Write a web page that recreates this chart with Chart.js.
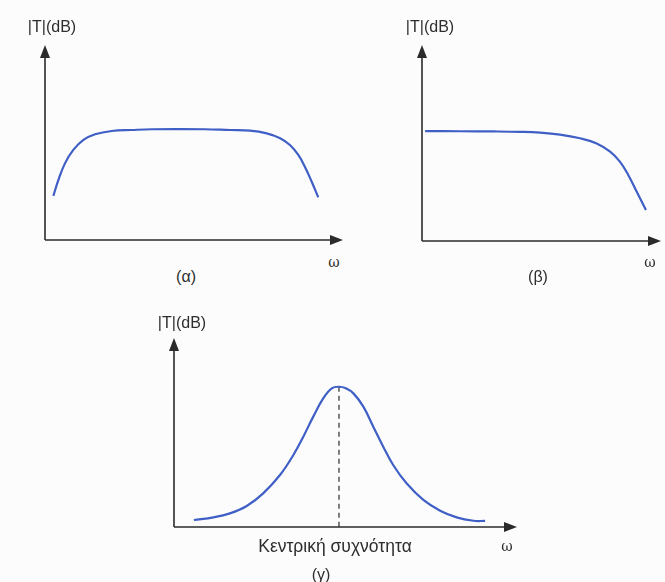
<!DOCTYPE html>
<html>
<head>
<meta charset="utf-8">
<script src="https://cdn.jsdelivr.net/npm/chart.js@4/dist/chart.umd.min.js"></script>
<style>
  html, body { margin:0; padding:0; background:#fcfcfc; width:665px; height:582px; overflow:hidden; position:relative; }
  canvas { position:absolute; }
  .lbl { position:absolute; font-family:"Liberation Sans", Arial, sans-serif; color:#2e2e2e; white-space:nowrap; transform:translate(-50%,-50%); }
  .om { font-family:"DejaVu Serif", serif; font-size:14px; }
</style>
</head>
<body>
<canvas id="ca"></canvas>
<canvas id="cb"></canvas>
<canvas id="cc"></canvas>

<div class="lbl" style="left:52px;top:27px;font-size:16px;">|T|(dB)</div>
<div class="lbl om" style="left:334px;top:262px;">ω</div>
<div class="lbl" style="left:186px;top:277px;font-size:16px;">(α)</div>

<div class="lbl" style="left:430px;top:27px;font-size:16px;">|T|(dB)</div>
<div class="lbl om" style="left:650px;top:262px;">ω</div>
<div class="lbl" style="left:538px;top:277px;font-size:16px;">(β)</div>

<div class="lbl" style="left:182px;top:323px;font-size:16px;">|T|(dB)</div>
<div class="lbl" style="left:335px;top:546px;font-size:17.5px;">Κεντρική συχνότητα</div>
<div class="lbl om" style="left:507px;top:546px;">ω</div>
<div class="lbl" style="left:321px;top:575px;font-size:16px;">(γ)</div>

<script>
// ---- data (arbitrary units, 0..100 on both axes) ----
const omegaA = [2.8, 4.5, 6.7, 9.5, 12.9, 16.8, 22.4, 29.1, 35.8, 45.3, 53.7, 62.1, 68.8, 74.4, 78.9, 82.2, 85.0, 87.2, 89.5, 91.7];
const magA   = [22.6, 30.8, 39.3, 46.2, 51.3, 54.2, 55.9, 56.4, 56.8, 56.9, 56.8, 56.4, 56.1, 54.7, 52.2, 48.7, 43.6, 37.6, 29.9, 21.9];

const omegaB = [1.3, 16.0, 30.0, 41.0, 49.4, 57.7, 66.1, 73.1, 78.7, 82.8, 86.3, 89.8, 93.7];
const magB   = [56.1, 56.0, 55.9, 55.7, 55.3, 54.3, 52.4, 49.8, 45.6, 40.5, 33.7, 25.2, 15.8];

const omegaC = [5.8, 11.5, 16.3, 21.2, 26.0, 30.9, 34.8, 37.7, 40.6, 43.5, 46.0, 48.1, 50.1, 52.3, 55.2, 58.1, 61.0, 63.9, 67.8, 72.7, 77.6, 82.4, 87.3, 90.7];
const magC   = [3.7, 5.1, 7.2, 11.1, 17.8, 27.5, 38.1, 47.8, 58.4, 68.1, 73.4, 74.2, 73.4, 70.7, 63.7, 53.1, 42.5, 32.8, 23.1, 14.3, 8.6, 5.1, 3.3, 3.2];
const centerIndexC = 11;

const axisMin = 0, axisMax = 100;

// ---- layout ----
const PAD = 14;
const AXIS_COLOR = '#2b2b2b';
const CURVE_COLOR = '#3f5fc6';

const axesPlugin = {
  id: 'arrowAxes',
  beforeDatasetsDraw(chart, args, opts) {
    const ctx = chart.ctx, xs = chart.scales.x, ys = chart.scales.y;
    const x0 = xs.getPixelForValue(axisMin), y0 = ys.getPixelForValue(axisMin);
    const xr = xs.getPixelForValue(axisMax), yt = ys.getPixelForValue(axisMax);
    const al = 13, aw = 5;
    ctx.save();
    ctx.strokeStyle = AXIS_COLOR; ctx.fillStyle = AXIS_COLOR; ctx.lineWidth = 1.6;
    ctx.beginPath();
    ctx.moveTo(x0, y0); ctx.lineTo(x0, yt + al - 1);
    ctx.moveTo(x0, y0); ctx.lineTo(xr - al + 1, y0);
    ctx.stroke();
    ctx.beginPath();
    ctx.moveTo(x0, yt); ctx.lineTo(x0 - aw, yt + al); ctx.lineTo(x0 + aw, yt + al); ctx.closePath();
    ctx.fill();
    ctx.beginPath();
    ctx.moveTo(xr, y0); ctx.lineTo(xr - al, y0 - aw); ctx.lineTo(xr - al, y0 + aw); ctx.closePath();
    ctx.fill();
    if (opts && opts.dashIndex !== undefined) {
      const ds = chart.data.datasets[0].data[opts.dashIndex];
      const px = xs.getPixelForValue(ds.x), py = ys.getPixelForValue(ds.y);
      ctx.setLineDash([5, 4]);
      ctx.lineWidth = 1.2;
      ctx.beginPath(); ctx.moveTo(px, py); ctx.lineTo(px, y0); ctx.stroke();
    }
    ctx.restore();
  }
};

function makeChart(id, ox, oy, w, h, xs, ys, dashIndex) {
  const cv = document.getElementById(id);
  cv.width = w + 2 * PAD; cv.height = h + 2 * PAD;
  cv.style.left = (ox - PAD) + 'px';
  cv.style.top = (oy - h - PAD) + 'px';
  cv.style.width = cv.width + 'px'; cv.style.height = cv.height + 'px';
  const pts = xs.map((x, i) => ({ x: x, y: ys[i] }));
  const pluginOpts = {};
  if (dashIndex !== undefined) pluginOpts.dashIndex = dashIndex;
  return new Chart(cv, {
    type: 'line',
    data: { datasets: [{ data: pts, borderColor: CURVE_COLOR, borderWidth: 2.2, pointRadius: 0,
                         tension: 0.4, fill: false }] },
    options: {
      responsive: false, animation: false, devicePixelRatio: 1,
      layout: { padding: PAD },
      plugins: { legend: { display: false }, tooltip: { enabled: false }, arrowAxes: pluginOpts },
      scales: {
        x: { type: 'linear', min: axisMin, max: axisMax, display: false },
        y: { type: 'linear', min: axisMin, max: axisMax, display: false }
      }
    },
    plugins: [axesPlugin]
  });
}

makeChart('ca', 45, 240, 298, 195, omegaA, magA);
makeChart('cb', 422, 241, 239, 196, omegaB, magB);
makeChart('cc', 174, 527, 343, 189, omegaC, magC, centerIndexC);
</script>
</body>
</html>
